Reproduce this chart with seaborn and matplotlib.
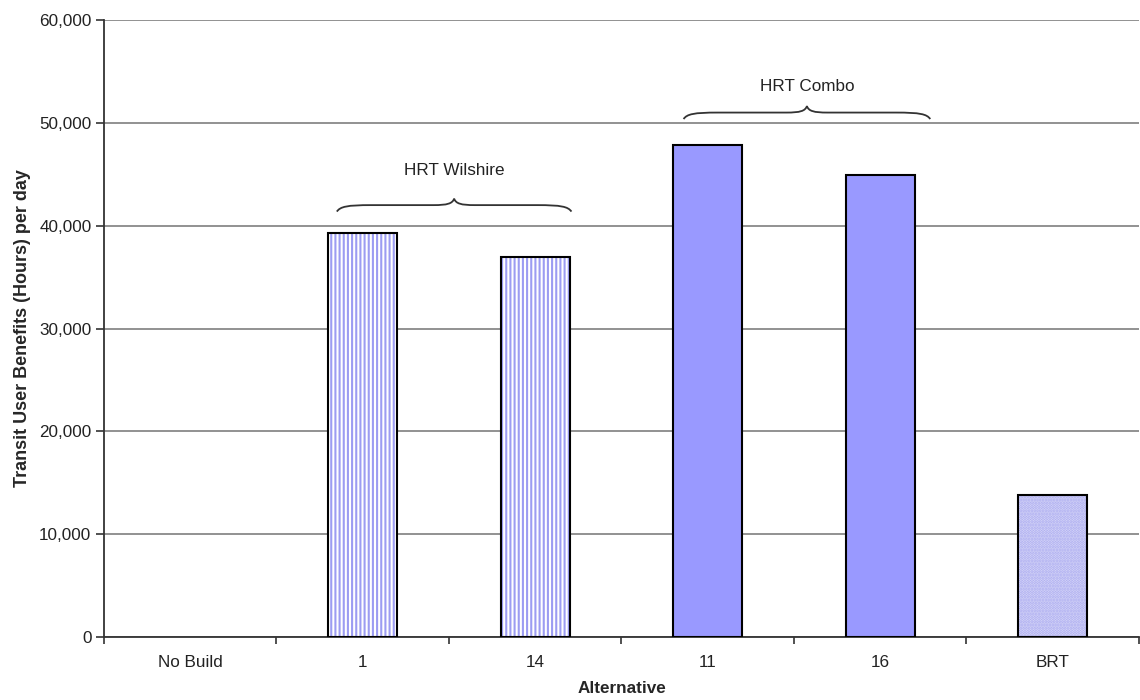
import matplotlib
matplotlib.use("Agg")
import matplotlib.pyplot as plt
import seaborn as sns
import pandas as pd
from matplotlib.path import Path
from matplotlib.patches import PathPatch, Rectangle
from matplotlib.ticker import FuncFormatter, FixedLocator

categories = ["No Build", "1", "14", "11", "16", "BRT"]
values = [0, 39300, 37000, 47800, 44900, 13800]
groups = ["HRT Wilshire", "HRT Combo"]
group_spans = [(0.85, 2.21), (2.86, 4.29)]
group_levels = [42000, 51000]

sns.set_theme(style="white")
plt.rcParams['font.family'] = ['Liberation Sans', 'DejaVu Sans']
plt.rcParams['hatch.linewidth'] = 1.5

fig = plt.figure(figsize=(11.4, 7), dpi=100)
ax = fig.add_axes([0.0912, 0.09, 0.9079, 0.8814])

df = pd.DataFrame({"Alternative": categories, "Value": values})
sns.barplot(data=df, x="Alternative", y="Value", ax=ax, width=0.4,
            color="#9999ff", saturation=1, zorder=3)

styles = {
    "1": dict(face="white", hatch="||||", hc="#9c9cf2"),
    "14": dict(face="white", hatch="||||", hc="#9c9cf2"),
    "11": dict(face="#9999ff", hatch=None, hc=None),
    "16": dict(face="#9999ff", hatch=None, hc=None),
    "BRT": dict(face="#dcdcf8", hatch="......", hc="#a8a8f0"),
    "No Build": dict(face="#9999ff", hatch=None, hc=None),
}
for cat, p in zip(categories, list(ax.patches)):
    st = styles[cat]
    p.set_facecolor(st["face"])
    if p.get_height() <= 0:
        p.set_linewidth(0)
        continue
    if st["hatch"]:
        p.set_hatch(st["hatch"])
        p.set_edgecolor(st["hc"])
        p.set_linewidth(0)
        ax.add_patch(Rectangle((p.get_x(), p.get_y()), p.get_width(), p.get_height(),
                               fill=False, edgecolor="black", linewidth=1.5, zorder=4))
    else:
        p.set_edgecolor("black")
        p.set_linewidth(1.5)

ax.set_ylim(0, 60000)
ax.set_xlim(-0.5, 5.5)
ax.yaxis.set_major_locator(FixedLocator(range(0, 60001, 10000)))
ax.yaxis.set_major_formatter(FuncFormatter(lambda v, _: f"{int(v):,}"))
ax.grid(axis="y", color="#7f7f7f", linewidth=1.2, zorder=0)
ax.set_axisbelow(True)

for s in ["top", "right"]:
    ax.spines[s].set_visible(False)
for s in ["left", "bottom"]:
    ax.spines[s].set_color("#333333")
    ax.spines[s].set_linewidth(1.3)

ax.tick_params(axis="y", which="major", left=True, length=6, width=1.2,
               color="#333333", labelsize=12.3, labelcolor="#222222", pad=3)
ax.tick_params(axis="x", which="major", bottom=False, labelsize=12.3,
               labelcolor="#222222", pad=7)
ax.set_xticks(range(len(categories)))
ax.set_xticklabels(categories)
ax.set_xticks([i - 0.5 for i in range(len(categories) + 1)], minor=True)
ax.tick_params(axis="x", which="minor", bottom=True, length=5, width=1.2, color="#333333")

ax.set_xlabel("Alternative", fontsize=12.3, fontweight="bold", labelpad=8)
ax.set_ylabel("Transit User Benefits (Hours) per day", fontsize=13,
              fontweight="bold", labelpad=6)


def brace(ax, x0, x1, y, h):
    xm = (x0 + x1) / 2
    verts = [
        (x0, y - h * 0.9),
        (x0 + 0.02, y - 0.2 * h), (x0 + 0.06, y), (x0 + 0.2, y),
        (xm - 0.12, y),
        (xm - 0.04, y), (xm - 0.01, y + 0.2 * h), (xm, y + h * 0.9),
        (xm + 0.01, y + 0.2 * h), (xm + 0.04, y), (xm + 0.12, y),
        (x1 - 0.2, y),
        (x1 - 0.06, y), (x1 - 0.02, y - 0.2 * h), (x1, y - h * 0.9),
    ]
    codes = [Path.MOVETO,
             Path.CURVE4, Path.CURVE4, Path.CURVE4,
             Path.LINETO,
             Path.CURVE4, Path.CURVE4, Path.CURVE4,
             Path.CURVE4, Path.CURVE4, Path.CURVE4,
             Path.LINETO,
             Path.CURVE4, Path.CURVE4, Path.CURVE4]
    ax.add_patch(PathPatch(Path(verts, codes), fill=False, edgecolor="#333333",
                           linewidth=1.3, zorder=5, clip_on=False))


for name, (x0, x1), lvl, ty in zip(groups, group_spans, group_levels, [45400, 53500]):
    brace(ax, x0, x1, lvl, 700)
    ax.text((x0 + x1) / 2, ty, name, ha="center", va="center",
            fontsize=12.3, color="#222222")

fig.savefig("out.png", dpi=100)
